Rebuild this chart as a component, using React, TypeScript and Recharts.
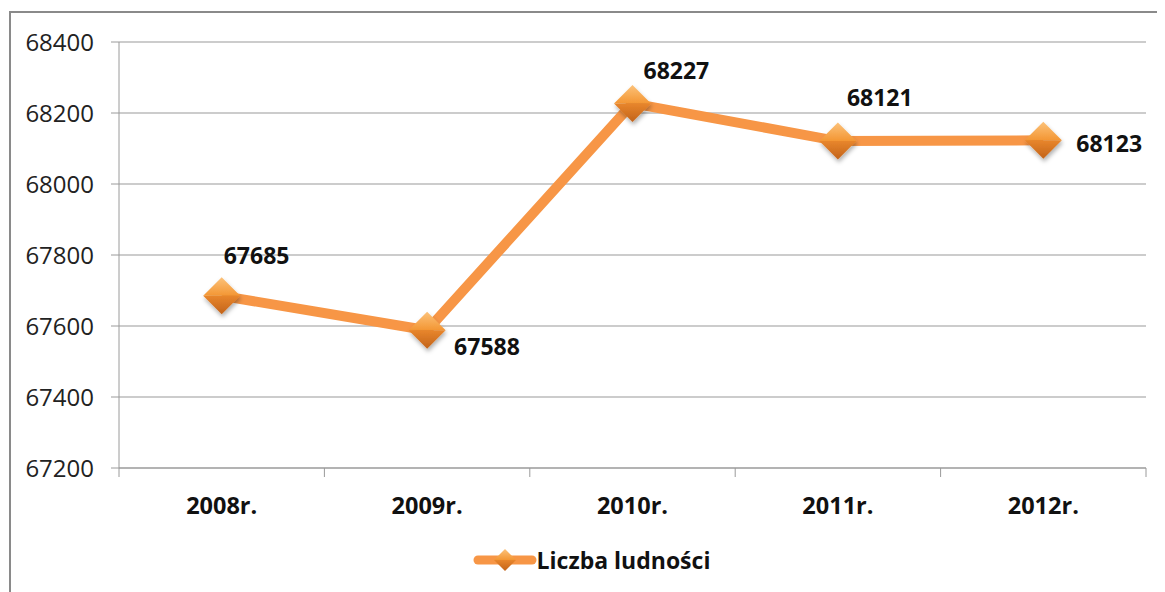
import { CartesianGrid, LabelList, Legend, Line, LineChart, XAxis, YAxis } from 'recharts'

const YEARS: readonly string[] = ['2008r.', '2009r.', '2010r.', '2011r.', '2012r.']
const POPULATION: readonly number[] = [67685, 67588, 68227, 68121, 68123]
const Y_TICKS: readonly number[] = [67200, 67400, 67600, 67800, 68000, 68200, 68400]
const SERIES_NAME = 'Liczba ludności'

// hand-placed label nudges, relative to each marker (dx to text start, dy to text middle)
const LABEL_NUDGE: readonly (readonly [number, number])[] = [
  [2, -41],
  [27, 16],
  [11, -33],
  [9, -44],
  [33, 3],
]

const W = 1157
const H = 584
const MARGIN = { top: 34, right: 19, bottom: 0, left: 0 }
const Y_AXIS_W = 111
const X_AXIS_H = 124
const BAND = (W - MARGIN.right - Y_AXIS_W) / YEARS.length
const DIAMOND = 18.5

const ORANGE = '#F79646'
const AXIS = '#9a9a9a'
const FONT = '"Open Sans", "Noto Sans", sans-serif'

const rows = YEARS.map((year, i) => ({ year, value: POPULATION[i] }))

function Diamond(props: any) {
  const { cx, cy, index } = props
  if (cx == null || cy == null) return null
  const s = DIAMOND
  return (
    <g key={`d${index}`} filter="url(#dshadow)">
      <polygon points={`${cx - s},${cy} ${cx},${cy - s} ${cx + s},${cy}`} fill="url(#dtop)" />
      <polygon points={`${cx - s},${cy} ${cx + s},${cy} ${cx},${cy + s}`} fill="url(#dbot)" />
    </g>
  )
}

function XTick(props: any) {
  const { x, y, payload, index } = props
  const top = y - 8
  return (
    <g>
      <line x1={x - BAND / 2} x2={x - BAND / 2} y1={top} y2={top + 9} stroke={AXIS} />
      {index === YEARS.length - 1 && <line x1={x + BAND / 2} x2={x + BAND / 2} y1={top} y2={top + 9} stroke={AXIS} />}
      <text x={x} y={top + 37} textAnchor="middle" dominantBaseline="central" fontFamily={FONT} fontWeight={700} fontSize={23.5} fill="#111">
        {payload.value}
      </text>
    </g>
  )
}

function ValueLabel(props: any) {
  const { x, y, value, index } = props
  const [dx, dy] = LABEL_NUDGE[index] ?? [0, -30]
  return (
    <text x={x + dx} y={y + dy} dominantBaseline="central" fontFamily={FONT} fontWeight={700} fontSize={23} fill="#111">
      {value}
    </text>
  )
}

function LegendBox() {
  return (
    <div style={{ display: 'flex', justifyContent: 'center', alignItems: 'center', width: W, height: 30, paddingLeft: 10, boxSizing: 'border-box' }}>
      <svg width={64} height={30} style={{ marginRight: 0 }}>
        <defs>
          <linearGradient id="ltop" x1="0" y1="0" x2="0" y2="1">
            <stop offset="0" stopColor="#fcc27a" />
            <stop offset="1" stopColor="#f39633" />
          </linearGradient>
          <linearGradient id="lbot" x1="0" y1="0" x2="0" y2="1">
            <stop offset="0" stopColor="#e8862c" />
            <stop offset="1" stopColor="#c2631a" />
          </linearGradient>
        </defs>
        <line x1={5} x2={59} y1={15} y2={15} stroke={ORANGE} strokeWidth={9} strokeLinecap="round" />
        <polygon points="21,15 32,4 43,15" fill="url(#ltop)" />
        <polygon points="21,15 43,15 32,26" fill="url(#lbot)" />
      </svg>
      <span style={{ fontFamily: FONT, fontWeight: 700, fontSize: 23, color: '#111' }}>{SERIES_NAME}</span>
    </div>
  )
}

export default function App() {
  return (
    <div style={{ position: 'relative', width: W, height: H }}>
      <div
        style={{
          position: 'absolute',
          left: 1,
          top: 3,
          width: W + 40,
          height: H + 40,
          borderLeft: '2px solid #8a8a8a',
          borderTop: '2px solid #8a8a8a',
          boxSizing: 'border-box',
        }}
      />
      <div style={{ position: 'absolute', left: 0, top: 0 }}>
        <LineChart width={W} height={H} data={rows} margin={MARGIN}>
          <defs>
            <linearGradient id="dtop" x1="0" y1="0" x2="0" y2="1">
              <stop offset="0" stopColor="#fcc27a" />
              <stop offset="1" stopColor="#f39633" />
            </linearGradient>
            <linearGradient id="dbot" x1="0" y1="0" x2="0" y2="1">
              <stop offset="0" stopColor="#e8862c" />
              <stop offset="1" stopColor="#c2631a" />
            </linearGradient>
            <filter id="dshadow" x="-50%" y="-50%" width="200%" height="200%">
              <feDropShadow dx="1" dy="3" stdDeviation="2" floodColor="#000" floodOpacity="0.3" />
            </filter>
          </defs>
          <CartesianGrid vertical={false} stroke={AXIS} strokeWidth={1.2} />
          <XAxis
            dataKey="year"
            scale="band"
            height={X_AXIS_H}
            axisLine={{ stroke: AXIS }}
            tickLine={false}
            tick={<XTick />}
            interval={0}
          />
          <YAxis
            domain={[67200, 68400]}
            ticks={Y_TICKS as number[]}
            width={Y_AXIS_W}
            axisLine={{ stroke: AXIS }}
            tickLine={{ stroke: AXIS }}
            tickSize={8}
            tickMargin={17}
            tick={{ fontFamily: FONT, fontSize: 24, fill: '#222' }}
          />
          <Legend
            verticalAlign="middle"
            align="center"
            layout="horizontal"
            wrapperStyle={{ top: 537, left: 0, width: W }}
            content={() => <LegendBox />}
          />
          <Line
            type="linear"
            dataKey="value"
            name={SERIES_NAME}
            stroke={ORANGE}
            strokeWidth={10}
            dot={Diamond}
            activeDot={false}
            isAnimationActive={false}
          >
            <LabelList dataKey="value" content={<ValueLabel />} />
          </Line>
        </LineChart>
      </div>
    </div>
  )
}
